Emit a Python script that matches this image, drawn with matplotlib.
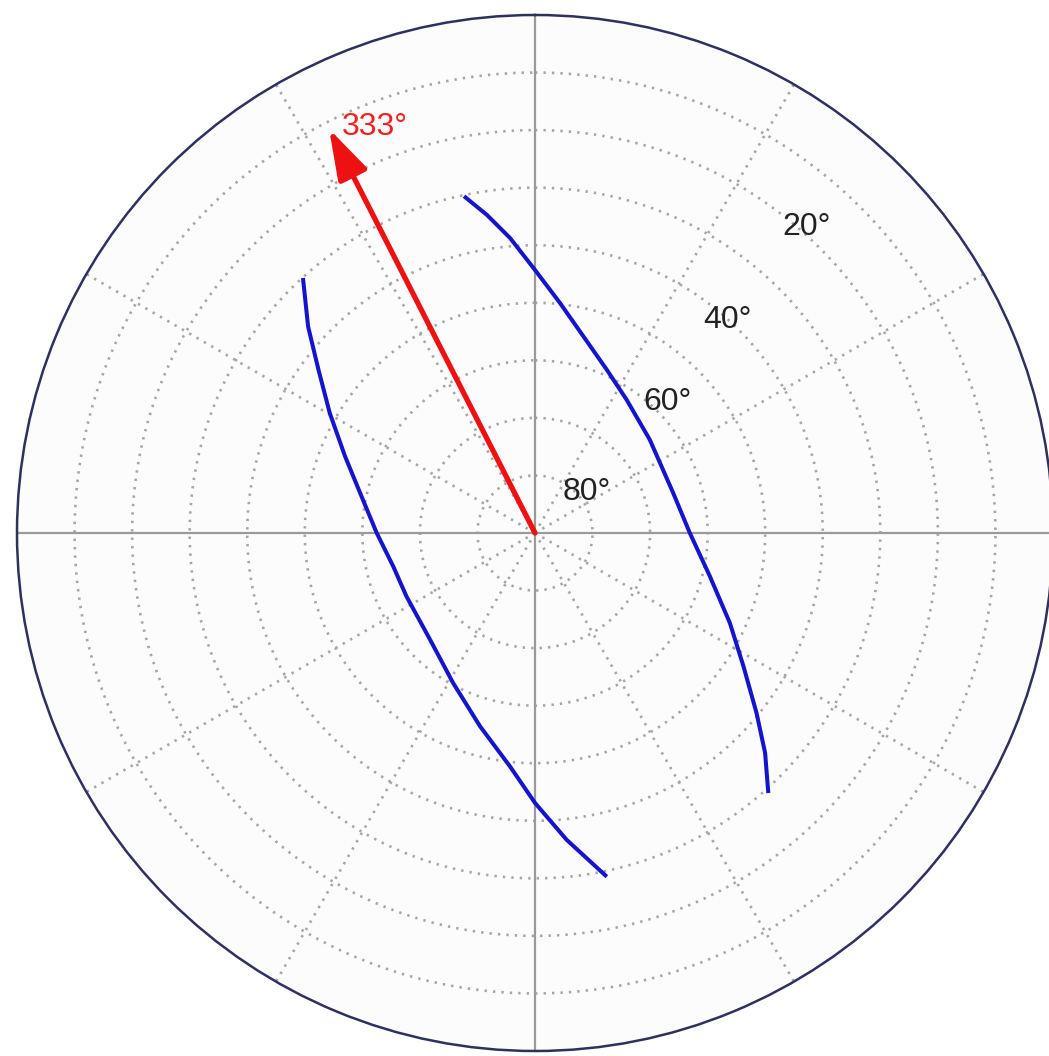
import numpy as np
import matplotlib
matplotlib.use("Agg")
import matplotlib.pyplot as plt

# ---- data (azimuth in degrees clockwise from north, radial value 0..90 = 90 - dip) ----
ring_values = [10, 20, 30, 40, 50, 60, 70, 80]
spoke_angles = [30, 60, 120, 150, 210, 240, 300, 330]
axis_angles = [0, 90, 180, 270]

curve1_az = [348.1, 351.4, 355.2, 0.0, 6.2, 13.8, 23.7, 34.5, 50.9, 73.9,
             90.0, 103.9, 114.8, 122.6, 129.1, 133.7, 138.1]
curve1_r = [59.8, 55.9, 51.4, 45.7, 40.2, 35.2, 31.0, 28.1, 25.7, 25.0,
            26.9, 31.3, 37.3, 43.0, 49.6, 55.3, 60.7]
curve2_az = [317.7, 312.3, 307.0, 300.3, 292.0, 281.9, 270.0, 256.7, 243.7,
             224.5, 208.6, 195.9, 186.1, 180.0, 174.1, 168.2]
curve2_r = [59.9, 53.3, 47.1, 41.3, 35.6, 30.8, 27.5, 25.3, 24.9,
            26.0, 29.7, 34.9, 40.8, 46.9, 53.6, 61.0]

arrow_az = 333.0
arrow_r = 78.8
arrow_label = "333°"
arrow_label_pos = (338.5, 75.9)

dip_labels = ["80°", "60°", "40°", "20°"]
dip_label_az = [51.7, 45.4, 42.2, 41.6]
dip_label_r = [11.5, 32.4, 49.9, 71.1]

R_MAX = 90

plt.rcParams["font.family"] = ["Liberation Sans", "DejaVu Sans"]

fig = plt.figure(figsize=(10.49, 10.56), dpi=100)
ax = fig.add_axes([17 / 1049, 5 / 1056, 1036 / 1049, 1036 / 1056], projection="polar")
ax.set_theta_zero_location("N")
ax.set_theta_direction(-1)
ax.set_ylim(0, R_MAX)
ax.set_facecolor("#fcfcfc")
ax.grid(False)
ax.set_xticks([])
ax.set_yticks([])
ax.spines["polar"].set_color("#2e3160")
ax.spines["polar"].set_linewidth(1.8)

dotted = dict(color="#a6a6a6", lw=1.9, linestyle=(0, (0.9, 2.3)), zorder=1,
              dash_capstyle="butt")
th = np.linspace(0, 2 * np.pi, 721)
for rv in ring_values:
    ax.plot(th, np.full_like(th, rv), **dotted)
for a in spoke_angles:
    ax.plot([np.deg2rad(a)] * 2, [0, R_MAX], **dotted)
for a in axis_angles:
    ax.plot([np.deg2rad(a)] * 2, [0, R_MAX], color="#9a9a9a", lw=1.6, zorder=2)

for az, rr in ((curve1_az, curve1_r), (curve2_az, curve2_r)):
    ax.plot(np.deg2rad(az), rr, color="#1414cc", lw=2.9, zorder=3,
            solid_capstyle="butt", solid_joinstyle="round")

ax.annotate("", xy=(np.deg2rad(arrow_az), arrow_r), xytext=(0, 0),
            arrowprops=dict(arrowstyle="-|>,head_length=1.55,head_width=0.48",
                            color="#ee1111", lw=3.8, shrinkA=0, shrinkB=0,
                            mutation_scale=20),
            zorder=4)
ax.text(np.deg2rad(arrow_label_pos[0]), arrow_label_pos[1], arrow_label,
        color="#ee2222", fontsize=23, ha="center", va="center", zorder=5)

for lab, az, r in zip(dip_labels, dip_label_az, dip_label_r):
    ax.text(np.deg2rad(az), r, lab, color="#222222", fontsize=23,
            ha="center", va="center", zorder=5)

fig.savefig("out.png", dpi=100, facecolor="white")
